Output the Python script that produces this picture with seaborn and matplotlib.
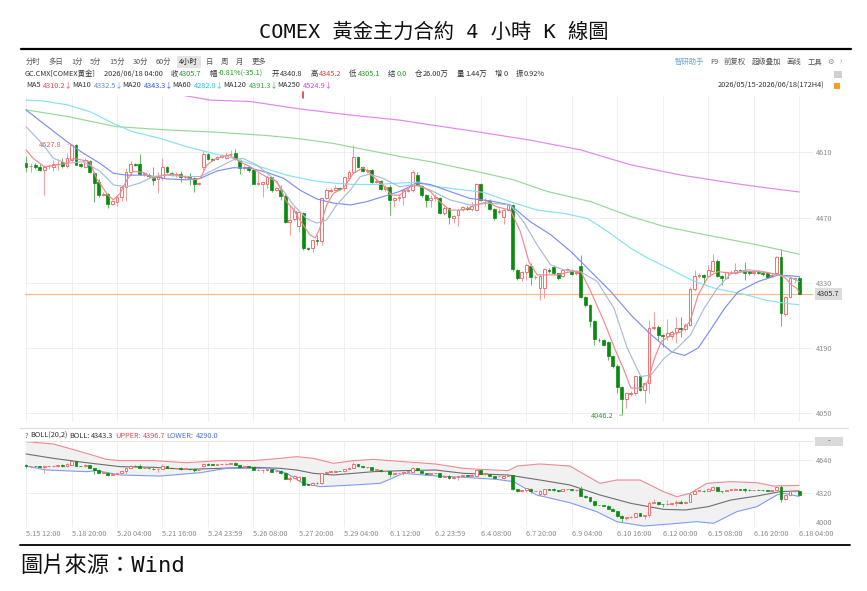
import numpy as np
import pandas as pd
import matplotlib
matplotlib.use("Agg")
import matplotlib.pyplot as plt
import matplotlib.transforms as mtransforms
from matplotlib.patches import Rectangle
from matplotlib.lines import Line2D
import seaborn as sns

sns.set_style("white")
plt.rcParams['font.family'] = ['Noto Sans CJK SC', 'DejaVu Sans']

# ---------------- data ----------------
opens = [4588, 4580, 4583, 4579, 4573, 4580, 4578, 4584, 4590, 4581,
         4593, 4626, 4584, 4579, 4592, 4565, 4547, 4519, 4520, 4500,
         4504, 4515, 4536, 4567, 4584, 4584, 4563, 4561, 4558, 4552,
         4554, 4578, 4566, 4563, 4563, 4558, 4558, 4554, 4542, 4579,
         4606, 4596, 4595, 4600, 4598, 4606, 4608, 4593, 4576, 4578,
         4572, 4543, 4543, 4543, 4556, 4530, 4530, 4517, 4460, 4466,
         4452, 4479, 4405, 4404, 4422, 4420, 4511, 4528, 4529, 4533,
         4533, 4554, 4567, 4600, 4579, 4570, 4572, 4547, 4548, 4531,
         4536, 4508, 4511, 4515, 4528, 4529, 4562, 4537, 4518, 4508,
         4511, 4511, 4480, 4490, 4470, 4475, 4488, 4491, 4488, 4486,
         4542, 4507, 4506, 4488, 4482, 4472, 4486, 4497, 4357, 4340,
         4354, 4366, 4342, 4318, 4318, 4357, 4363, 4350, 4345, 4357,
         4357, 4350, 4366, 4299, 4282, 4247, 4208, 4207, 4202, 4172,
         4152, 4106, 4080, 4092, 4094, 4130, 4101, 4114, 4232, 4236,
         4218, 4215, 4215, 4225, 4234, 4230, 4240, 4316, 4345, 4347,
         4345, 4356, 4377, 4345, 4340, 4353, 4350, 4357, 4357, 4356,
         4350, 4353, 4352, 4352, 4345, 4350, 4385, 4263, 4300, 4338,
         4340.8]
highs = [4603, 4586, 4586, 4584, 4581, 4585, 4593, 4596, 4597, 4608,
         4627.8, 4627, 4586, 4597, 4594, 4568, 4553, 4525, 4522, 4508,
         4518, 4540, 4576, 4591, 4588, 4606, 4568, 4565, 4579, 4568,
         4597, 4580, 4568, 4568, 4570, 4562, 4565, 4558, 4546, 4612,
         4609, 4598, 4602, 4606, 4610, 4614, 4618, 4595, 4582, 4580,
         4576, 4567, 4549, 4561, 4558, 4535, 4540, 4520, 4497, 4493,
         4484, 4481, 4407, 4425, 4432, 4515, 4533, 4533, 4540, 4536,
         4558, 4572, 4625, 4603, 4581, 4576, 4574, 4552, 4550, 4540,
         4539, 4515, 4520, 4531, 4533, 4572, 4568, 4540, 4520, 4518,
         4520, 4515, 4495, 4492, 4476, 4489, 4495, 4494, 4504, 4544,
         4544, 4512, 4510, 4490, 4490, 4489, 4500, 4500, 4359, 4356,
         4372, 4372, 4346, 4348, 4362, 4362, 4368, 4352, 4360, 4362,
         4360, 4358, 4390, 4302, 4285, 4250, 4212, 4210, 4206, 4176,
         4155, 4108, 4096, 4098, 4131, 4132, 4116, 4250, 4268, 4239,
         4221, 4252, 4228, 4256, 4256, 4243, 4320, 4358, 4350, 4349,
         4368, 4392, 4380, 4347, 4356, 4358, 4372, 4360, 4375, 4358,
         4356, 4358, 4355, 4354, 4350, 4387, 4402, 4302, 4345, 4343,
         4345.2]
lows = [4567, 4568, 4575, 4570, 4518, 4575, 4570, 4572, 4576, 4576,
        4590, 4582, 4579, 4576, 4565, 4504, 4514, 4516, 4490, 4497,
        4494, 4505, 4505, 4561, 4580, 4561, 4560, 4555, 4540, 4522,
        4550, 4565, 4560, 4558, 4547, 4553, 4540, 4524, 4540, 4572,
        4594, 4592, 4593, 4598, 4596, 4600, 4593, 4563, 4572, 4568,
        4541, 4540, 4515, 4533, 4525, 4526, 4508, 4458, 4432, 4462,
        4440, 4400, 4401, 4397, 4412, 4411, 4509, 4524, 4526, 4530,
        4528, 4550, 4565, 4577, 4568, 4566, 4545, 4544, 4529, 4528,
        4475, 4493, 4505, 4497, 4525, 4525, 4538, 4515, 4492, 4492,
        4505, 4478, 4475, 4456, 4458, 4452, 4484, 4486, 4484, 4484,
        4506, 4494, 4486, 4465, 4478, 4456, 4484, 4355, 4336, 4334,
        4336, 4325, 4338, 4293, 4298, 4352, 4346, 4336, 4342, 4355,
        4346, 4346, 4297, 4278, 4236, 4196, 4204, 4194, 4165, 4148,
        4093, 4046.2, 4061, 4088, 4090, 4098, 4073, 4093, 4228, 4205,
        4193, 4208, 4210, 4200, 4214, 4226, 4238, 4313, 4341, 4330,
        4343, 4354, 4342, 4326, 4338, 4349, 4348, 4353, 4335, 4347,
        4347, 4349, 4345, 4340, 4342, 4348, 4237, 4258, 4298, 4330,
        4305.1]
closes = [4579, 4581, 4578, 4573, 4579, 4581, 4584, 4585, 4581, 4597,
          4626, 4583, 4581, 4593, 4567, 4545, 4518, 4520, 4500, 4505,
          4515, 4536, 4567, 4584, 4583, 4563, 4566, 4559, 4551, 4556,
          4578, 4567, 4563, 4564, 4558, 4559, 4554, 4543, 4544, 4606,
          4596, 4594, 4600, 4604, 4605, 4607, 4596, 4576, 4578, 4572,
          4543, 4545, 4546, 4556, 4529, 4533, 4517, 4460, 4465, 4483,
          4481, 4404, 4403, 4422, 4420, 4511, 4529, 4530, 4533, 4532,
          4556, 4568, 4600, 4579, 4570, 4573, 4547, 4549, 4531, 4536,
          4508, 4511, 4514, 4529, 4530, 4567, 4540, 4518, 4508, 4513,
          4515, 4480, 4490, 4472, 4473, 4486, 4492, 4489, 4495, 4542,
          4508, 4508, 4488, 4468, 4485, 4486, 4497, 4359, 4340, 4354,
          4368, 4342, 4343, 4345, 4359, 4356, 4350, 4340, 4357, 4359,
          4349, 4353, 4299, 4282, 4247, 4209, 4207, 4197, 4172, 4152,
          4106, 4080, 4093, 4094, 4129, 4101, 4114, 4232, 4235, 4218,
          4215, 4222, 4225, 4234, 4230, 4240, 4316, 4345, 4346, 4343,
          4357, 4377, 4345, 4340, 4354, 4354, 4357, 4356, 4352, 4350,
          4353, 4352, 4348, 4343, 4347, 4385, 4265, 4300, 4340, 4341,
          4305.7]

# moving-average lines, sampled at bar positions
ma5_x = [0, 1.6, 4, 9, 10.4, 12, 14, 15.5, 18, 19.2, 20.7, 22.2, 23.5, 25.8, 27.8,
         30.2, 32.4, 34.6, 36.8, 38.3, 39.8, 41.8, 44.7, 47, 49.3, 51.5, 52.7, 55.2,
         57.3, 58.6, 60.2, 62.4, 63.6, 64.6, 66.1, 67.6, 69.8, 72, 74.2, 76.3, 78.5,
         80.4, 82.2, 84.5, 86.5, 88.9, 91, 93.2, 96.2, 99.1, 101.4, 103.5, 106.5,
         108.7, 110.6, 112.4, 114.6, 116.8, 119.8, 122, 124.2, 127.1, 129.4, 131.6,
         133, 135.3, 136.7, 138.2, 139.7, 141.9, 144.1, 146, 147.8, 150, 152.2,
         155.2, 158.1, 161.1, 164, 165.5, 167, 168.4, 169.5, 170]
ma5_y = [4615, 4597, 4579, 4586, 4597, 4594, 4590, 4554, 4518, 4508, 4522, 4551,
         4569, 4567, 4554, 4561, 4563, 4558, 4551, 4554, 4583, 4597, 4604, 4590,
         4579, 4565, 4558, 4547, 4504, 4490, 4465, 4433, 4426, 4447, 4497, 4522,
         4533, 4565, 4577, 4558, 4540, 4518, 4518, 4536, 4540, 4526, 4504, 4486,
         4486, 4497, 4504, 4493, 4486, 4440, 4375, 4347, 4347, 4347, 4354, 4354,
         4311, 4247, 4190, 4140, 4104, 4104, 4118, 4168, 4204, 4218, 4225, 4247,
         4304, 4343, 4354, 4350, 4354, 4354, 4350, 4347, 4340, 4325, 4318, 4310.2]
ma10_x = [0, 3.8, 6, 9, 12.6, 16.3, 19.2, 22.2, 25, 28, 30.8, 35.3, 38.3, 42, 45.6,
          47.7, 50.7, 54.4, 56.7, 58.8, 61.7, 63.9, 66.1, 68.3, 71.3, 73.5, 75.6,
          78.5, 82.2, 85.2, 88.9, 93.2, 97.6, 102, 106.5, 109.4, 112.4, 115.4,
          118.2, 121.9, 125.6, 129.3, 132.2, 135.2, 137.4, 140.3, 143.2, 146.1,
          149.1, 152, 155, 158.7, 162.3, 165.2, 168.1, 170]
ma10_y = [4665, 4626, 4597, 4586, 4590, 4569, 4540, 4536, 4544, 4558, 4561, 4558,
          4558, 4576, 4594, 4597, 4583, 4554, 4526, 4497, 4468, 4458, 4465, 4497,
          4529, 4558, 4563, 4554, 4536, 4541, 4529, 4508, 4497, 4501, 4497, 4461,
          4411, 4368, 4358, 4354, 4333, 4275, 4190, 4129, 4132, 4168, 4190, 4218,
          4275, 4318, 4350, 4358, 4354, 4347, 4342, 4332.5]
ma20_x = [0, 3.8, 9, 12.6, 16.3, 19.2, 22.2, 26.5, 30.9, 35.3, 38.3, 42, 45.6, 49.3,
          52.9, 56.7, 60.2, 63.9, 67.6, 71.3, 74.9, 78.5, 82.2, 85.9, 88.9, 93.2,
          97.6, 102, 106.5, 110.9, 115.4, 119.8, 124.2, 128.6, 133, 137.5, 141.9,
          144.8, 147.8, 150.7, 153.6, 156.6, 161.1, 165.5, 170]
ma20_y = [4701, 4672, 4633, 4608, 4586, 4565, 4561, 4561, 4553, 4551, 4554, 4570,
          4577, 4576, 4567, 4554, 4529, 4510, 4501, 4497, 4504, 4515, 4526, 4544,
          4541, 4526, 4511, 4506, 4497, 4461, 4433, 4397, 4354, 4311, 4261, 4218,
          4182, 4174, 4190, 4232, 4275, 4311, 4333, 4347, 4343.3]
ma60_x = [0, 3.8, 9, 14.1, 19.2, 23.5, 29.4, 35.3, 39.8, 45.6, 51.5, 57.3, 63.2,
          67.6, 72, 77.1, 82.2, 86.7, 88.9, 94.7, 100.6, 106.5, 112.4, 118.2, 123.5,
          127.9, 133, 136.7, 141.9, 146.3, 151.5, 158.1, 162.5, 167, 170]
ma60_y = [4722, 4720, 4712, 4697, 4672, 4654, 4640, 4622, 4611, 4597, 4579, 4561,
          4549, 4544, 4541, 4541, 4544, 4546, 4538, 4531, 4524, 4504, 4486, 4479,
          4468, 4440, 4404, 4383, 4358, 4336, 4318, 4305, 4293, 4286, 4282.8]
ma120_x = [0, 9, 19.9, 30.9, 42, 52.9, 60.2, 67.6, 74.9, 82.2, 88.9, 99.9, 107.2,
           114.6, 124.2, 133, 140.3, 147.8, 155.2, 162.5, 170]
ma120_y = [4701, 4687, 4665, 4658, 4653, 4646, 4639, 4629, 4615, 4601, 4590, 4567,
           4551, 4526, 4504, 4472, 4451, 4436, 4422, 4408, 4391.3]
ma250_x = [30, 40.5, 49.3, 60.2, 71.3, 82.2, 88.9, 99.9, 110.9, 122, 133, 144.1,
           155.2, 162.5, 170]
ma250_y = [4740, 4722, 4719, 4703, 4690, 4679, 4669, 4653, 4636, 4615, 4583, 4561,
           4544, 4534, 4524.9]

# Bollinger bands (lower panel)
boll_up_x = [0, 6, 13.3, 17.7, 20.7, 28, 35.3, 42.7, 50, 55.9, 59.5, 63.2, 67.6, 72,
             76.4, 83, 90, 96.2, 99.8, 106, 108, 113, 119.6, 126.2, 129.9, 135, 140.2,
             143.1, 146, 149.7, 154.8, 160.7, 164.4, 170]
boll_up_y = [4816, 4794, 4704, 4646, 4634, 4634, 4614, 4634, 4634, 4656, 4672, 4656,
             4608, 4634, 4646, 4624, 4602, 4560, 4550, 4538, 4582, 4602, 4582, 4416,
             4448, 4448, 4336, 4288, 4320, 4416, 4432, 4422, 4390, 4396.7]
boll_mid_x = [0, 6, 13.3, 20.7, 28, 35.3, 42.7, 50, 55.9, 59.5, 63.2, 67.6, 72, 76.4,
              83, 90, 96.2, 106, 113, 119.6, 126.2, 133, 140.2, 145, 150, 155, 160.7,
              165.8, 170]
boll_mid_y = [4698, 4656, 4614, 4576, 4570, 4550, 4560, 4570, 4560, 4544, 4512, 4496,
              4512, 4528, 4538, 4544, 4512, 4496, 4448, 4400, 4304, 4224, 4166, 4160,
              4192, 4256, 4294, 4336, 4343.3]
boll_low_x = [-0.2, 4.5, 13.3, 15.5, 20.7, 29.5, 38.3, 44.1, 53.7, 57.3, 61, 64.7, 72,
              77.9, 83, 90.3, 96.2, 103.5, 107.2, 112.3, 119.6, 125.5, 129.9, 135.8,
              141.6, 147.5, 151.2, 156.3, 160.7, 165.1, 166.6, 170]
boll_low_y = [4582, 4544, 4528, 4538, 4496, 4486, 4518, 4560, 4560, 4512, 4416, 4384,
              4400, 4416, 4512, 4486, 4474, 4454, 4432, 4304, 4230, 4144, 4048, 4006,
              4026, 4048, 4032, 4144, 4192, 4304, 4320, 4290]

date_labels = ["5.15 12:00", "5.18 20:00", "5.20 04:00", "5.21 16:00", "5.24 23:59",
               "5.26 08:00", "5.27 20:00", "5.29 04:00", "6.1 12:00", "6.2 23:59",
               "6.4 08:00", "6.7 20:00", "6.9 04:00", "6.10 16:00", "6.12 00:00",
               "6.15 08:00", "6.16 20:00", "6.18 04:00"]
date_idx = list(range(0, 171, 10))
main_yticks = [4050, 4190, 4330, 4470, 4610]
boll_yticks = [4000, 4320, 4640]
hi_idx, hi_val = 10, 4627.8
lo_idx, lo_val = 131, 4046.2
last_close = 4305.7
event_idx = [61]

# ---------------- figure ----------------
W, H = 867, 591
fig = plt.figure(figsize=(W / 100, H / 100), dpi=100)
fig.patch.set_facecolor("white")
renderer = fig.canvas.get_renderer()


def fx(x):
    return x / W


def fy(y):
    return 1 - y / H


SMALL = 5.3
UP_EDGE = "#f07272"
UP_WICK = "#f39a9a"
DN_FACE = "#0b8a12"
DN_WICK = "#63b863"

ax_l, ax_r = 24.9, 813.0
main_ax = fig.add_axes([fx(ax_l), fy(422), fx(ax_r - ax_l), (422 - 96) / H])
boll_ax = fig.add_axes([fx(ax_l), fy(527), fx(ax_r - ax_l), (527 - 441) / H])

idx = np.arange(len(closes))
df = pd.DataFrame({"i": idx, "o": opens, "h": highs, "l": lows, "c": closes})
df["up"] = df["c"] >= df["o"]


def draw_candles(ax, min_h):
    up = df[df["up"]]
    dn = df[~df["up"]]
    ax.vlines(up["i"], up["l"], up["h"], color=UP_WICK, lw=0.7, zorder=3)
    ax.vlines(dn["i"], dn["l"], dn["h"], color=DN_WICK, lw=0.7, zorder=3)
    hu = np.maximum((up["c"] - up["o"]).abs(), min_h)
    ax.bar(up["i"], hu, bottom=np.minimum(up["o"], up["c"]), width=0.62,
           facecolor="white", edgecolor=UP_EDGE, linewidth=0.7, zorder=4)
    hd = np.maximum((dn["c"] - dn["o"]).abs(), min_h)
    ax.bar(dn["i"], hd, bottom=np.minimum(dn["o"], dn["c"]), width=0.62,
           facecolor=DN_FACE, edgecolor=DN_FACE, linewidth=0.5, zorder=4)


for ax in (main_ax, boll_ax):
    ax.set_facecolor("white")
    ax.set_xlim(-0.25, 173.05)
    ax.set_xticks(date_idx)
    ax.grid(True, color="#ececec", lw=0.6)
    ax.set_axisbelow(True)
    for s in ax.spines.values():
        s.set_visible(False)
    ax.yaxis.tick_right()
    ax.tick_params(axis="y", length=0, pad=2.2, labelsize=SMALL, labelcolor="#8c8c8c")

# main panel
main_ax.set_ylim(4031.3, 4730.8)
main_ax.set_yticks(main_yticks)
main_ax.tick_params(axis="x", length=0, labelbottom=False)
main_ax.axhline(last_close, color="#f6b98c", lw=0.9, zorder=2)

ma_specs = [
    (ma250_x, ma250_y, "#e584f0"),
    (ma120_x, ma120_y, "#97d897"),
    (ma60_x, ma60_y, "#86e0f2"),
    (ma20_x, ma20_y, "#7f8ff0"),
    (ma10_x, ma10_y, "#a9bcd6"),
    (ma5_x, ma5_y, "#f08a8a"),
]
for xs, ys, col in ma_specs:
    sns.lineplot(x=xs, y=ys, ax=main_ax, color=col, lw=0.85, estimator=None,
                 sort=False, zorder=5)

draw_candles(main_ax, 1.0)

trans_main = mtransforms.blended_transform_factory(main_ax.transAxes, main_ax.transData)
main_ax.text(1.005, last_close, f"{last_close:.1f}", transform=trans_main, fontsize=SMALL,
             color="#333333", ha="left", va="center",
             bbox=dict(boxstyle="square,pad=0.32", fc="#dcdcdc", ec="none"))

main_ax.annotate(f"{hi_val:.1f}", xy=(hi_idx, hi_val), xytext=(-7, -1),
                 textcoords="offset points", ha="right", va="center",
                 fontsize=SMALL, color="#e05a5a",
                 arrowprops=dict(arrowstyle="-", color="#f0a0a0", lw=0.5))
main_ax.annotate(f"{lo_val:.1f}", xy=(lo_idx, lo_val), xytext=(-6, -1),
                 textcoords="offset points", ha="right", va="center",
                 fontsize=SMALL, color="#3a9a3a",
                 arrowprops=dict(arrowstyle="-", color="#7fc07f", lw=0.6))

trans_top = mtransforms.blended_transform_factory(main_ax.transData, main_ax.transAxes)
for e in event_idx:
    main_ax.plot([e, e], [0.995, 1.012], transform=trans_top, color="#e03a3a", lw=1.2,
                 clip_on=False, zorder=6)

# lower (BOLL) panel
boll_ax.set_ylim(3996.8, 4822.4)
boll_ax.set_yticks(boll_yticks)
ylabs = boll_ax.get_yticklabels()
ylabs[0].set_verticalalignment("bottom")
boll_ax.spines["top"].set_visible(True)
boll_ax.spines["top"].set_color("#e6e6e6")
boll_ax.spines["top"].set_linewidth(0.7)
boll_ax.set_xticklabels(date_labels)
for lab in boll_ax.get_xticklabels():
    lab.set_horizontalalignment("left")
boll_ax.tick_params(axis="x", length=0, pad=2.0, labelsize=SMALL, labelcolor="#8c8c8c")

poly_x = list(boll_up_x) + list(boll_low_x)[::-1]
poly_y = list(boll_up_y) + list(boll_low_y)[::-1]
boll_ax.fill(poly_x, poly_y, color="#f1f1f1", lw=0, zorder=1)
sns.lineplot(x=boll_up_x, y=boll_up_y, ax=boll_ax, color="#ee8a95", lw=0.8,
             estimator=None, sort=False, zorder=2)
sns.lineplot(x=boll_mid_x, y=boll_mid_y, ax=boll_ax, color="#6e6e6e", lw=0.8,
             estimator=None, sort=False, zorder=2)
sns.lineplot(x=boll_low_x, y=boll_low_y, ax=boll_ax, color="#7f9cf2", lw=0.8,
             estimator=None, sort=False, zorder=2)
draw_candles(boll_ax, 4.0)

# ---------------- header / decorations ----------------
TITLE_FONT = ["DejaVu Sans Mono", "Noto Sans CJK TC"]
fig.text(fx(434), fy(32), "COMEX 黃金主力合約 4 小時 K 線圖", fontsize=14.6,
         family=TITLE_FONT, ha="center", va="center", color="#111111")
fig.add_artist(Line2D([fx(21), fx(851)], [fy(49), fy(49)], color="black", lw=1.6))
fig.add_artist(Line2D([fx(20), fx(850)], [fy(545), fy(545)], color="black", lw=1.3))
fig.add_artist(Line2D([fx(20), fx(848)], [fy(428), fy(428)], color="#dddddd", lw=0.8))
fig.text(fx(20), fy(566), "圖片來源：Wind", fontsize=16, family=TITLE_FONT,
         ha="left", va="center", color="#111111")


def flow(groups, y, x0, x1, size=SMALL, inner=1.0):
    """Lay out groups of (text, colour) pieces from x0 so the row ends at x1."""
    made = []
    total = 0.0
    for g in groups:
        pieces = []
        for s, c in g:
            t = fig.text(0, fy(y), s, color=c, fontsize=size, ha="left", va="center")
            w = t.get_window_extent(renderer).width
            pieces.append((t, w))
        gw = sum(w for _, w in pieces) + inner * (len(pieces) - 1)
        made.append((pieces, gw))
        total += gw
    gap = (x1 - x0 - total) / max(len(groups) - 1, 1)
    x = x0
    spans = []
    for pieces, gw in made:
        start = x
        for t, w in pieces:
            t.set_x(fx(x))
            x += w + inner
        x = start + gw + gap
        spans.append((start, start + gw))
    return spans


TXT = "#444444"
DARK = "#333333"
GREEN = "#1f9a1f"
RED = "#e23c3c"

# toolbar row
tool_items = ["分时", "多日", "1分", "5分", "15分", "30分", "60分", "4小时", "日", "周",
              "月", "更多"]
spans = flow([[(s, "#222222" if s == "4小时" else "#555555")] for s in tool_items],
             62, 26, 266)
hx0, hx1 = spans[7]
fig.add_artist(Rectangle((fx(hx0 - 2.5), fy(68)), fx(hx1 - hx0 + 5), 12 / H,
                         facecolor="#e4e4e4", edgecolor="none", zorder=-1))
flow([[("智研助手", "#6aa8dc")], [("F9", "#555555")], [("前复权", "#555555")],
      [("超级叠加", "#555555")], [("画线", "#555555")], [("工具", "#555555")],
      [("⚙", "#888888")], [("›", "#888888")]], 62, 675, 842)

row2 = [[("GC.CMX[COMEX黄金]", DARK)], [("2026/06/18 04:00", DARK)],
        [("收", DARK), ("4305.7", GREEN)], [("幅", DARK), ("-0.81%(-35.1)", GREEN)],
        [("开", DARK), ("4340.8", DARK)], [("高", DARK), ("4345.2", RED)],
        [("低", DARK), ("4305.1", GREEN)], [("结", DARK), ("0.0", GREEN)],
        [("仓", DARK), ("26.00万", DARK)], [("量", DARK), ("1.44万", DARK)],
        [("增", DARK), ("0", DARK)], [("振", DARK), ("0.92%", DARK)]]
flow(row2, 74, 25, 545)
fig.add_artist(Rectangle((fx(834), fy(78)), fx(8), 7 / H, facecolor="#d0d0d0",
                         edgecolor="none"))

row3 = [[("MA5", DARK), ("4310.2↓", "#e24a4a")],
        [("MA10", DARK), ("4332.5↓", "#5f8fd0")],
        [("MA20", DARK), ("4343.3↓", "#3456e6")],
        [("MA60", DARK), ("4282.8↓", "#2fbde0")],
        [("MA120", DARK), ("4391.3↓", "#35a535")],
        [("MA250", DARK), ("4524.9↓", "#dd3ddd")]]
flow(row3, 85, 26, 333, inner=2.5)
flow([[("2026/05/15-2026/06/18(172H4)", DARK)]], 85, 718, 825)
fig.add_artist(Rectangle((fx(834), fy(89)), fx(6), 6 / H, facecolor="#f0a020",
                         edgecolor="none"))

# BOLL label row
flow([[("?", "#666666")], [("BOLL(20,2)", DARK)], [("BOLL:", DARK), ("4343.3", DARK)],
      [("UPPER:", "#e24a4a"), ("4396.7", "#e24a4a")],
      [("LOWER:", "#4a6ee8"), ("4290.0", "#4a6ee8")]], 436, 25, 218, inner=2.0)

fig.add_artist(Rectangle((fx(815), fy(446)), fx(28), 9 / H, facecolor="#d9d9d9",
                         edgecolor="none"))
fig.text(fx(829), fy(441.5), "-", color=DARK, fontsize=SMALL, ha="center", va="center")

fig.savefig("out.png", dpi=100, facecolor="white")
